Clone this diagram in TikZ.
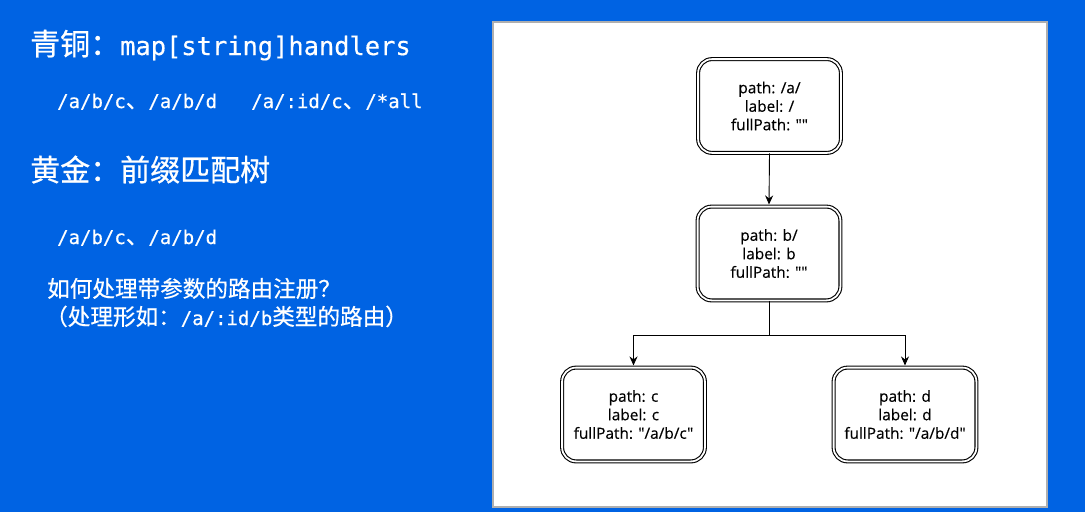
\documentclass[tikz,border=0pt]{standalone}
\usepackage{fontspec}
\newfontfamily\cjk[FakeBold=0.6]{Noto Sans CJK SC}
\newfontfamily\monof[FakeBold=0.4]{DejaVu Sans Mono}
\newfontfamily\nodef[FakeBold=0.3]{Open Sans}
\usetikzlibrary{arrows.meta}
\definecolor{bgblue}{RGB}{0,99,227}
\definecolor{panelgray}{RGB}{175,175,175}
\newcommand\zhA[1]{{\cjk\fontsize{30}{36}\selectfont #1}}
\newcommand\enA[1]{{\monof\fontsize{25.4}{30}\selectfont #1}}
\newcommand\zhB[1]{{\cjk\fontsize{22.6}{27}\selectfont #1}}
\newcommand\enB[1]{{\monof\fontsize{19}{23}\selectfont #1}}
\begin{document}
\begin{tikzpicture}[x=1pt,y=-1pt,
  txt/.style={anchor=base west, inner sep=0pt, text=white},
  treenode/.style={draw=black, double=white, line width=1.1pt, double distance=1.8pt,
    rounded corners=14pt, fill=white, minimum width=142.8pt, minimum height=93.8pt,
    inner sep=0pt, align=center, font=\nodef\fontsize{15.4}{18.5}\selectfont},
  arr/.style={draw=black, line width=0.9pt, -{Stealth[length=9pt,width=8pt]}, shorten >=1.6pt}]
\useasboundingbox (0,0) rectangle (1085,512);
\fill[bgblue] (0,0) rectangle (1085,512);
% left text
\node[txt] (t1) at (30,55) {\zhA{青铜：}\enA{map[string]handlers}};
\node[txt] (t2) at (57,108) {\enB{/a/b/c}\zhB{、}\enB{/a/b/d}\hspace*{34.2pt}\enB{/a/:id/c}\zhB{、}\enB{/*all}};
\node[txt] (t3) at (30,181) {\zhA{黄金：前缀匹配树}};
\node[txt] (t4) at (57,244) {\enB{/a/b/c}\zhB{、}\enB{/a/b/d}};
\node[txt] (t5) at (47,297) {\zhB{如何处理带参数的路由注册？}};
\node[txt] (t6) at (45,325) {\zhB{（处理形如：}\enB{/a/:id/b}\zhB{类型的路由）}};
% panel
\draw[panelgray, fill=white, line width=1.2pt] (493,22) rectangle (1047,507);
% tree
\node[treenode] (root) at (769.5,106) {path: /a/\\label: /\\fullPath: ""};
\node[treenode] (mid) at (769,253.5) {path: b/\\label: b\\fullPath: ""};
\node[treenode] (nc) at (633.5,414.5) {path: c\\label: c\\fullPath: "/a/b/c"};
\node[treenode] (nd) at (905,414.5) {path: d\\label: d\\fullPath: "/a/b/d"};
\draw[arr] (root.south) -- (mid.north);
\coordinate (split) at (769,335);
\draw[arr] (mid.south) -- (split) -| (nc.north);
\draw[arr] (split) -| (nd.north);
\end{tikzpicture}
\end{document}
